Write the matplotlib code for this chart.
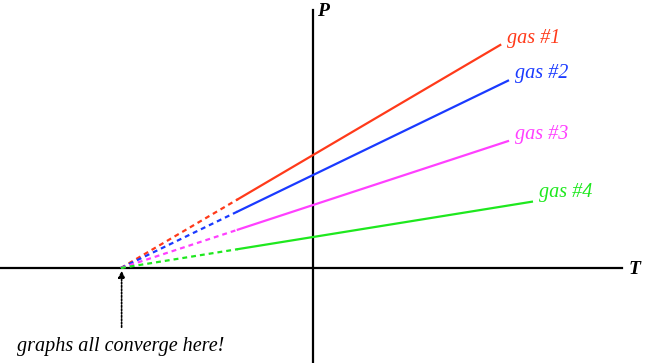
import numpy as np
import matplotlib.pyplot as plt

# temperature in degC, pressure in arbitrary units
labels = ["gas #1", "gas #2", "gas #3", "gas #4"]
colors = ["#ff3a1a", "#1a3aff", "#ff40ff", "#1ee81e"]
p_at_zero = [1.13, 0.93, 0.63, 0.31]
t_end = [266, 277, 277, 311]
t_abs_zero = -273.15
t_solid_start = -107

fig = plt.figure(figsize=(6.48, 3.63), dpi=100)
ax = fig.add_axes([0, 0, 1, 1])
ax.set_xlim(-445, 476)
ax.set_ylim(-0.95, 2.68)
ax.axis("off")

# axes
ax.plot([-445, 439], [0, 0], color="black", lw=1.6, zorder=1)
ax.plot([0, 0], [-0.95, 2.58], color="black", lw=1.6, zorder=1)

serif = ["Liberation Serif", "DejaVu Serif"]
ax.text(5, 2.56, "P", fontsize=14, fontstyle="italic", fontweight="bold",
        family=serif, ha="left", va="center")
ax.text(448, -0.02, "T", fontsize=14, fontstyle="italic", fontweight="bold",
        family=serif, ha="left", va="center")

label_dx = [10, 10, 10, 10]
label_dy = [0.06, 0.07, 0.07, 0.09]
for lab, c, p0, te, dx, dy in zip(labels, colors, p_at_zero, t_end, label_dx, label_dy):
    slope = p0 / (-t_abs_zero)
    p = lambda t: p0 + slope * t
    ax.plot([t_abs_zero, t_solid_start], [p(t_abs_zero), p(t_solid_start)],
            color=c, lw=1.6, linestyle=(0, (2.2, 1.8)), zorder=2)
    ax.plot([t_solid_start, te], [p(t_solid_start), p(te)], color=c, lw=1.6, zorder=2)
    ax.text(te + dx, p(te) + dy, lab, color=c, fontsize=14.5, fontstyle="italic",
            family=serif, ha="left", va="center")

# annotation arrow
ax.annotate("", xy=(t_abs_zero + 1, 0), xytext=(t_abs_zero + 1, -0.62),
            arrowprops=dict(arrowstyle="-|>", color="black", lw=1.2,
                            linestyle=(0, (1, 1)), mutation_scale=10))
ax.text(t_abs_zero - 1, -0.78, "graphs all converge here!", fontsize=14.5,
        fontstyle="italic", family=serif, ha="center", va="center")

fig.savefig("out.png", dpi=100)
